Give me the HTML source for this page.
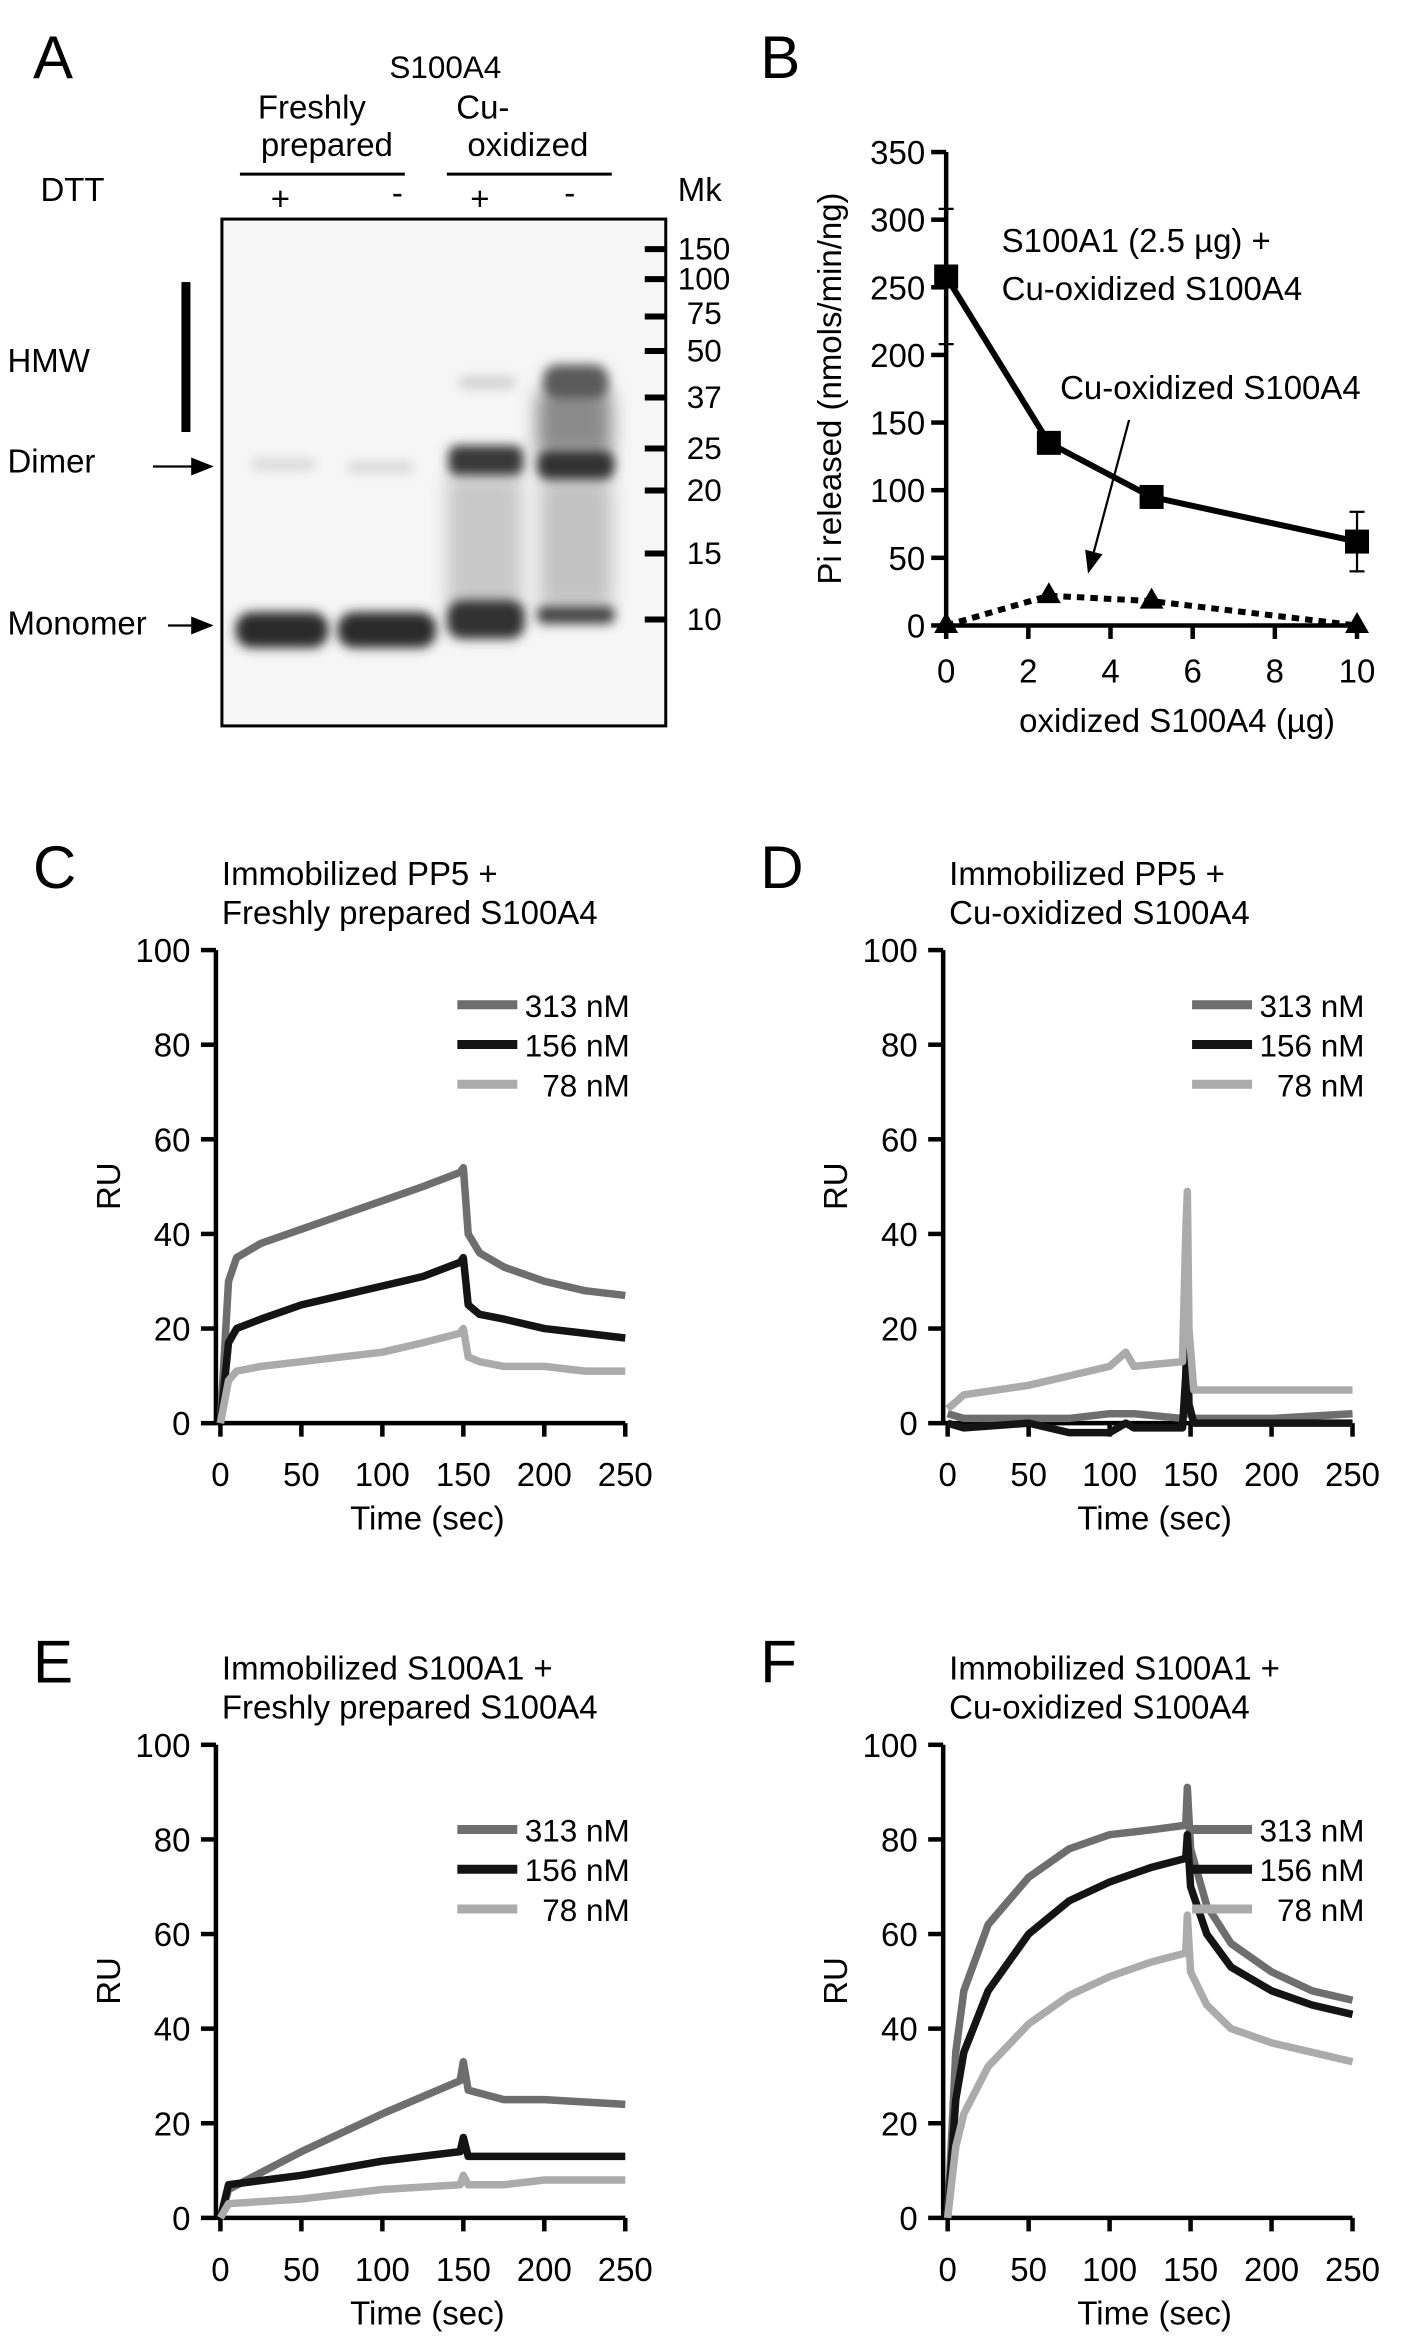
<!DOCTYPE html>
<html><head><meta charset="utf-8"><style>
html,body{margin:0;padding:0;background:#fff}
svg{display:block;font-family:"Liberation Sans",sans-serif}
</style></head><body>
<svg id="fig" width="1417" height="2347" viewBox="0 0 945 1565" xmlns="http://www.w3.org/2000/svg">
<defs>
<filter id="blur" x="-30%" y="-100%" width="160%" height="300%"><feGaussianBlur stdDeviation="3.5"/></filter>
<filter id="blur2" x="-30%" y="-30%" width="160%" height="160%"><feGaussianBlur stdDeviation="6"/></filter>
<marker id="arr" markerWidth="10" markerHeight="10" refX="9" refY="5" orient="auto"><path d="M0,1 L10,5 L0,9 Z" fill="#000"/></marker>
</defs>
<g id="panelA" font-size="22">
<text x="22" y="52" font-size="40">A</text>
<text x="297" y="52" text-anchor="middle" font-size="21">S100A4</text>
<text x="208" y="79" text-anchor="middle">Freshly</text>
<text x="218" y="104" text-anchor="middle">prepared</text>
<text x="322" y="79" text-anchor="middle">Cu-</text>
<text x="352" y="104" text-anchor="middle">oxidized</text>
<line x1="160" y1="116" x2="270" y2="116" stroke="#000" stroke-width="2"/>
<line x1="298" y1="116" x2="408" y2="116" stroke="#000" stroke-width="2"/>
<text x="27" y="134">DTT</text>
<text x="187" y="140" text-anchor="middle">+</text><text x="265" y="136" text-anchor="middle">-</text>
<text x="320" y="140" text-anchor="middle">+</text><text x="380" y="136" text-anchor="middle">-</text>
<text x="452" y="134">Mk</text>
<rect x="148" y="146" width="296" height="338" fill="#f6f6f6" stroke="#000" stroke-width="2"/>
<g>
<rect x="298" y="318" width="50" height="86" fill="#c8c8c8" filter="url(#blur2)"/>
<rect x="358" y="262" width="50" height="40" fill="#8a8a8a" filter="url(#blur2)"/>
<rect x="360" y="320" width="48" height="84" fill="#c2c2c2" filter="url(#blur2)"/>
<rect x="168" y="306" width="42" height="7" rx="3" fill="#d6d6d6" filter="url(#blur)"/>
<rect x="232" y="308" width="44" height="7" rx="3" fill="#d6d6d6" filter="url(#blur)"/>
<rect x="157" y="408" width="62" height="24" rx="11" fill="#2a2a2a" filter="url(#blur)"/>
<rect x="225" y="408" width="66" height="24" rx="11" fill="#2a2a2a" filter="url(#blur)"/>
<rect x="298" y="400" width="52" height="26" rx="10" fill="#303030" filter="url(#blur)"/>
<rect x="299" y="297" width="50" height="20" rx="6" fill="#383838" filter="url(#blur)"/>
<rect x="306" y="251" width="38" height="8" rx="4" fill="#d0d0d0" filter="url(#blur)"/>
<rect x="362" y="243" width="44" height="24" rx="10" fill="#5a5a5a" filter="url(#blur)"/>
<rect x="358" y="300" width="52" height="20" rx="8" fill="#303030" filter="url(#blur)"/>
<rect x="358" y="404" width="52" height="12" rx="5" fill="#444" filter="url(#blur)"/>
</g>
<g stroke="#000" stroke-width="4">
<line x1="430" y1="166" x2="444" y2="166"/><line x1="430" y1="186" x2="444" y2="186"/><line x1="430" y1="211" x2="444" y2="211"/><line x1="430" y1="234" x2="444" y2="234"/><line x1="430" y1="265" x2="444" y2="265"/><line x1="430" y1="299" x2="444" y2="299"/><line x1="430" y1="327" x2="444" y2="327"/><line x1="430" y1="369" x2="444" y2="369"/><line x1="430" y1="413" x2="444" y2="413"/>
</g>
<g font-size="21">
<text x="452" y="173">150</text><text x="452" y="193">100</text><text x="458" y="216">75</text><text x="458" y="241">50</text><text x="458" y="272">37</text><text x="458" y="306">25</text><text x="458" y="334">20</text><text x="458" y="376">15</text><text x="458" y="420">10</text>
</g>
<text x="5" y="248">HMW</text>
<rect x="121" y="188" width="6" height="100" fill="#000"/>
<text x="5" y="315">Dimer</text>
<line x1="102" y1="311" x2="141" y2="311" stroke="#000" stroke-width="1.5" marker-end="url(#arr)"/>
<text x="5" y="423">Monomer</text>
<line x1="112" y1="417" x2="141" y2="417" stroke="#000" stroke-width="1.5" marker-end="url(#arr)"/>
</g>
<g id="panelB"></g>
<g id="panelC"></g>
<g id="panelD"></g>
<g id="panelE"></g>
<g id="panelF"></g>
</svg>
<script>
// Panel B data
const bX = [0, 2.5, 5, 10];
const bSolid = [258, 135, 95, 62];
const bSolidErr = [50, 0, 0, 22];
const bDashed = [0, 22, 18, 0];
const bXTicks = [0, 2, 4, 6, 8, 10];
const bYTicks = [0, 50, 100, 150, 200, 250, 300, 350];
// SPR data: time keypoints and values
const tC = [0,5,10,25,50,75,100,125,148,150,153,160,175,200,225,250];
const c313 = [0,30,35,38,41,44,47,50,53,54,40,36,33,30,28,27];
const c156 = [0,17,20,22,25,27,29,31,34,35,25,23,22,20,19,18];
const c78  = [0,9,11,12,13,14,15,17,19,20,14,13,12,12,11,11];
const tD = [0,10,50,75,100,110,115,145,147,148,149,152,200,250];
const d313 = [2,1,1,1,2,2,2,1,3,5,2,1,1,2];
const d156 = [0,-1,0,-2,-2,0,-1,-1,10,21,4,0,0,0];
const d78  = [3,6,8,10,12,15,12,13,40,49,20,7,7,7];
const tE = [0,5,50,100,148,150,153,175,200,250];
const e313 = [0,6,14,22,29,33,27,25,25,24];
const e156 = [0,7,9,12,14,17,13,13,13,13];
const e78  = [0,3,4,6,7,9,7,7,8,8];
const tF = [0,5,10,25,50,75,100,125,147,148,150,160,175,200,225,250];
const f313 = [0,35,48,62,72,78,81,82,83,91,78,66,58,52,48,46];
const f156 = [0,25,35,48,60,67,71,74,76,81,70,60,53,48,45,43];
const f78  = [0,15,22,32,41,47,51,54,56,64,52,45,40,37,35,33];
const sprXTicks = [0,50,100,150,200,250];
const sprYTicks = [0,20,40,60,80,100];
const legendLabels = ["313 nM","156 nM","78 nM"];

const NS="http://www.w3.org/2000/svg";
function mk(parent, tag, attrs, text){
  const e=document.createElementNS(NS,tag);
  for(const k in attrs) e.setAttribute(k,attrs[k]);
  if(text!==undefined) e.textContent=text;
  parent.appendChild(e); return e;
}

// Panel B
(function(){
  const g=document.getElementById('panelB');
  const x=v=>631+v*27.4, y=v=>417-v*0.902;
  let t=mk(g,'text',{x:507,y:52,'font-size':40},'B');
  
  
  let ax=mk(g,'line',{x1:x(0),y1:y(350),x2:x(0),y2:y(0),stroke:'#000','stroke-width':3});
  
  
  let ax2=mk(g,'line',{x1:x(0),y1:y(0),x2:x(10),y2:y(0),stroke:'#000','stroke-width':3});
  
  
  bYTicks.forEach(v=>{
    mk(g,'line',{x1:x(0)-10,y1:y(v),x2:x(0),y2:y(v),stroke:'#000','stroke-width':3});
    const tl=mk(g,'text',{x:x(0)-14,y:y(v)+8,'text-anchor':'end','font-size':22},v);
    
    
  });
  bXTicks.forEach(v=>{
    mk(g,'line',{x1:x(v),y1:y(0),x2:x(v),y2:y(0)+9,stroke:'#000','stroke-width':3});
    const tl=mk(g,'text',{x:x(v),y:455,'text-anchor':'middle','font-size':22},v);
    
    
  });
  let yl=mk(g,'text',{x:0,y:0,transform:'translate(561,259) rotate(-90)','text-anchor':'middle','font-size':22},'Pi released (nmols/min/ng)');
  
  
  let xl=mk(g,'text',{x:785,y:488,'text-anchor':'middle','font-size':22},'oxidized S100A4 (µg)');
  
  
  bX.forEach((v,i)=>{ if(bSolidErr[i]>0){
    mk(g,'line',{x1:x(v),y1:y(bSolid[i]+bSolidErr[i]),x2:x(v),y2:y(bSolid[i]-bSolidErr[i]),stroke:'#000','stroke-width':1.5});
    mk(g,'line',{x1:x(v)-5,y1:y(bSolid[i]+bSolidErr[i]),x2:x(v)+5,y2:y(bSolid[i]+bSolidErr[i]),stroke:'#000','stroke-width':1.5});
    mk(g,'line',{x1:x(v)-5,y1:y(bSolid[i]-bSolidErr[i]),x2:x(v)+5,y2:y(bSolid[i]-bSolidErr[i]),stroke:'#000','stroke-width':1.5});
  }});
  let p=mk(g,'polyline',{points:bX.map((v,i)=>x(v)+','+y(bSolid[i])).join(' '),fill:'none',stroke:'#000','stroke-width':4});
  
  
  bX.forEach((v,i)=>{
    const r=mk(g,'rect',{x:x(v)-8,y:y(bSolid[i])-8,width:16,height:16,fill:'#000'});
    
    
  });
  let p2=mk(g,'polyline',{points:bX.map((v,i)=>x(v)+','+y(bDashed[i])).join(' '),fill:'none',stroke:'#000','stroke-width':4,'stroke-dasharray':'5,4'});
  
  
  bX.forEach((v,i)=>{
    const tr=mk(g,'polygon',{points:`${x(v)},${y(bDashed[i])-9} ${x(v)-8},${y(bDashed[i])+5} ${x(v)+8},${y(bDashed[i])+5}`,fill:'#000'});
    
    
  });
  let a1=mk(g,'text',{x:668,y:168,'font-size':22},'S100A1 (2.5 µg) +');
  
  
  let a2=mk(g,'text',{x:668,y:200,'font-size':22},'Cu-oxidized S100A4');
  
  
  let a3=mk(g,'text',{x:707,y:266,'font-size':22},'Cu-oxidized S100A4');
  
  
  mk(g,'line',{x1:753,y1:280,x2:726,y2:381,stroke:'#000','stroke-width':1.5,'marker-end':'url(#arr)'});
})();

function spr(id, letter, ox, oy, titles, series, legendX, legendY){
  const g=document.getElementById(id);
  const x=v=>ox+v*1.08, y=v=>oy-v*3.155;
  let t=mk(g,'text',{x:ox-125,y:oy-357,'font-size':40},letter);
  
  
  titles.forEach((s,i)=>{
    const tt=mk(g,'text',{x:ox+1,y:oy-359+i*26,'font-size':22},s);
    
    
  });
  let ay=mk(g,'line',{x1:ox-3,y1:y(100),x2:ox-3,y2:y(0)+1,stroke:'#000','stroke-width':3});
  
  
  let axx=mk(g,'line',{x1:ox-3,y1:y(0),x2:x(250),y2:y(0),stroke:'#000','stroke-width':3});
  
  
  sprYTicks.forEach(v=>{
    mk(g,'line',{x1:ox-13,y1:y(v),x2:ox-3,y2:y(v),stroke:'#000','stroke-width':3});
    const tl=mk(g,'text',{x:ox-20,y:y(v)+8,'text-anchor':'end','font-size':22},v);
    
    
  });
  sprXTicks.forEach(v=>{
    mk(g,'line',{x1:x(v),y1:y(0),x2:x(v),y2:y(0)+9,stroke:'#000','stroke-width':3});
    const tl=mk(g,'text',{x:x(v),y:oy+42,'text-anchor':'middle','font-size':22},v);
    
    
  });
  let xl=mk(g,'text',{x:ox+138,y:oy+71,'text-anchor':'middle','font-size':22},'Time (sec)');
  
  
  let yl=mk(g,'text',{x:0,y:0,transform:`translate(${ox-67},${oy-158}) rotate(-90)`,'text-anchor':'middle','font-size':22},'RU');
  
  
  series.forEach((s,i)=>{
    const p=mk(g,'polyline',{points:s.t.map((tv,j)=>x(tv)+','+y(s.v[j])).join(' '),fill:'none',stroke:s.c,'stroke-width':5,'stroke-linejoin':'round'});
    
    
  });
  series.slice().reverse().forEach((s,ri)=>{
    const i=series.length-1-ri;
    const ly=legendY+i*26.5;
    const l=mk(g,'line',{x1:legendX,y1:ly,x2:legendX+40,y2:ly,stroke:s.c,'stroke-width':6});
    
    
    const tl=mk(g,'text',{x:legendX+115,y:ly+8,'text-anchor':'end','font-size':21},legendLabels[i]);
    
    
  });
}
const C1='#6e6e6e',C2='#141414',C3='#ababab';
spr('panelC','C',147,949,['Immobilized PP5 +','Freshly prepared S100A4'],
  [{t:tC,v:c313,c:C1},{t:tC,v:c156,c:C2},{t:tC,v:c78,c:C3}],305,670);
spr('panelD','D',632,949,['Immobilized PP5 +','Cu-oxidized S100A4'],
  [{t:tD,v:d313,c:C1},{t:tD,v:d156,c:C2},{t:tD,v:d78,c:C3}],795,670);
spr('panelE','E',147,1479,['Immobilized S100A1 +','Freshly prepared S100A4'],
  [{t:tE,v:e313,c:C1},{t:tE,v:e156,c:C2},{t:tE,v:e78,c:C3}],305,1220);
spr('panelF','F',632,1479,['Immobilized S100A1 +','Cu-oxidized S100A4'],
  [{t:tF,v:f313,c:C1},{t:tF,v:f156,c:C2},{t:tF,v:f78,c:C3}],795,1220);
</script>
</body></html>
